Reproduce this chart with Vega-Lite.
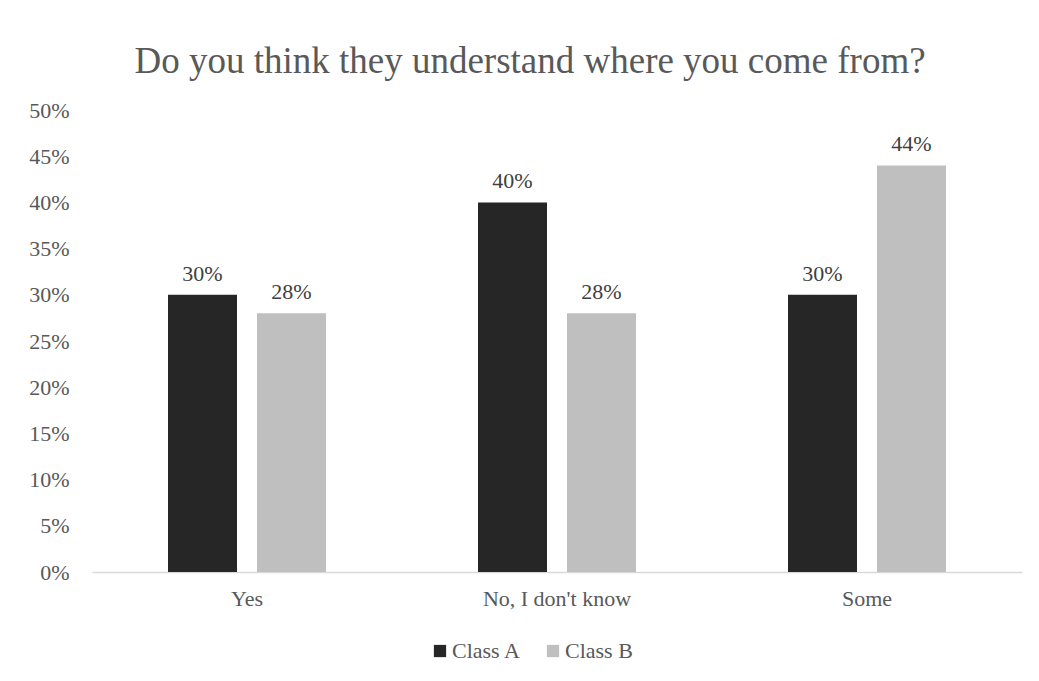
{
  "$schema": "https://vega.github.io/schema/vega-lite/v6.json",
  "width": 930,
  "height": 462,
  "autosize": {"type": "none"},
  "padding": {"left": 92, "top": 110, "right": 17, "bottom": 109},
  "background": "white",
  "config": {
    "font": "Liberation Serif",
    "view": {"stroke": null}
  },
  "title": {
    "text": "Do you think they understand where you come from?",
    "font": "Liberation Serif",
    "fontSize": 37,
    "fontWeight": "normal",
    "color": "#595959",
    "anchor": "middle",
    "frame": "group",
    "dx": -27,
    "baseline": "alphabetic",
    "offset": -11
  },
  "data": {
    "values": [
      {"answer": "Yes", "class": "Class A", "pct": 0.30},
      {"answer": "Yes", "class": "Class B", "pct": 0.28},
      {"answer": "No, I don't know", "class": "Class A", "pct": 0.40},
      {"answer": "No, I don't know", "class": "Class B", "pct": 0.28},
      {"answer": "Some", "class": "Class A", "pct": 0.30},
      {"answer": "Some", "class": "Class B", "pct": 0.44}
    ]
  },
  "encoding": {
    "x": {
      "field": "answer",
      "type": "nominal",
      "sort": ["Yes", "No, I don't know", "Some"],
      "scale": {"paddingInner": 0, "paddingOuter": 0},
      "axis": {
        "title": null,
        "labelAngle": 0,
        "labelFont": "Liberation Serif",
        "labelFontSize": 22,
        "labelColor": "#595959",
        "labelPadding": 16,
        "ticks": false,
        "domainColor": "#d9d9d9",
        "domainWidth": 1.5
      }
    },
    "xOffset": {
      "field": "class",
      "type": "nominal",
      "scale": {"paddingInner": 0.2247, "paddingOuter": 0.854}
    },
    "y": {
      "field": "pct",
      "type": "quantitative",
      "scale": {"domain": [0, 0.5]},
      "axis": {
        "title": null,
        "values": [0, 0.05, 0.1, 0.15, 0.2, 0.25, 0.3, 0.35, 0.4, 0.45, 0.5],
        "format": ".0%",
        "labelFont": "Liberation Serif",
        "labelFontSize": 22,
        "labelColor": "#595959",
        "labelPadding": 23,
        "ticks": false,
        "domain": false,
        "grid": false
      }
    }
  },
  "layer": [
    {
      "mark": {"type": "bar"},
      "encoding": {
        "color": {
          "field": "class",
          "type": "nominal",
          "scale": {"domain": ["Class A", "Class B"], "range": ["#262626", "#bfbfbf"]},
          "legend": {
            "title": null,
            "orient": "none",
            "legendX": 337,
            "legendY": 530,
            "padding": 0,
            "direction": "horizontal",
            "symbolType": "square",
            "symbolSize": 150,
            "symbolStrokeWidth": 0,
            "labelFont": "Liberation Serif",
            "labelFontSize": 22,
            "labelColor": "#595959",
            "labelOffset": 1,
            "columnPadding": 20
          }
        }
      }
    },
    {
      "mark": {"type": "text", "baseline": "alphabetic", "dy": -14, "font": "Liberation Serif", "fontSize": 22, "color": "#404040"},
      "encoding": {
        "text": {"field": "pct", "type": "quantitative", "format": ".0%"}
      }
    }
  ]
}
